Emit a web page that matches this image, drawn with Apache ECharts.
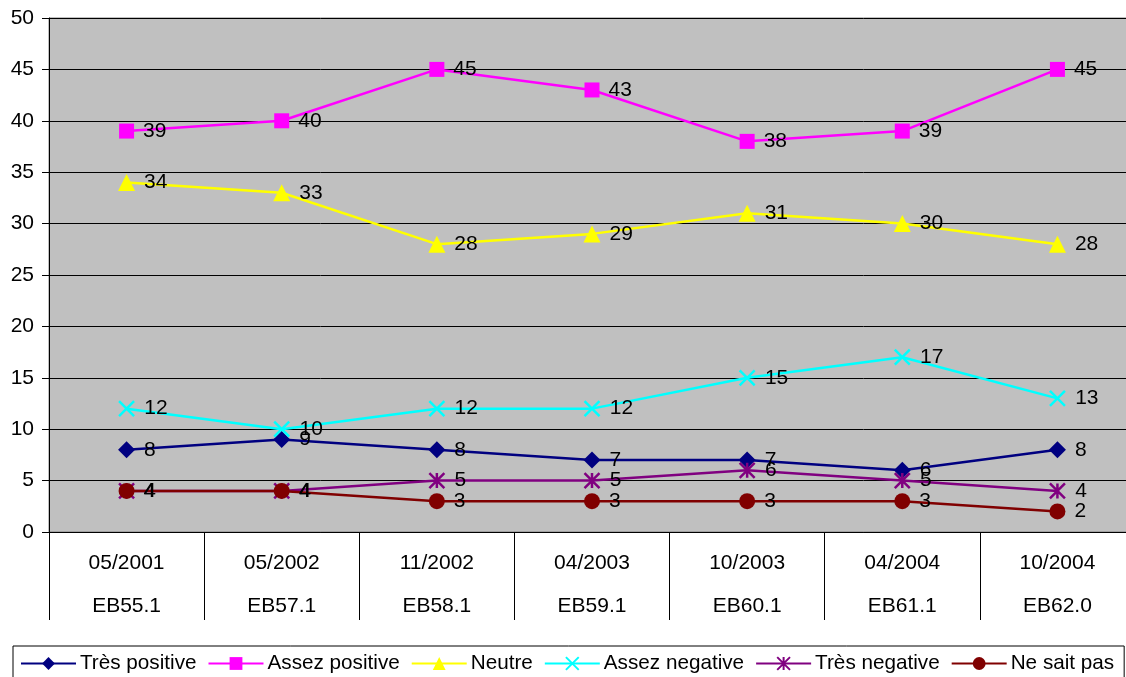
<!DOCTYPE html>
<html>
<head>
<meta charset="utf-8">
<script src="https://cdn.jsdelivr.net/npm/echarts@6/dist/echarts.min.js"></script>
<style>
html,body{margin:0;padding:0;background:#fff;overflow:hidden;width:1126px;height:677px;}
#chart{width:1150px;height:677px;}
</style>
</head>
<body>
<div id="chart"></div>
<script>
var categories = ['05/2001\nEB55.1','05/2002\nEB57.1','11/2002\nEB58.1','04/2003\nEB59.1','10/2003\nEB60.1','04/2004\nEB61.1','10/2004\nEB62.0'];
var tresPositive = [8, 9, 8, 7, 7, 6, 8];
var assezPositive = [39, 40, 45, 43, 38, 39, 45];
var neutre = [34, 33, 28, 29, 31, 30, 28];
var assezNegative = [12, 10, 12, 12, 15, 17, 13];
var tresNegative = [4, 4, 5, 5, 6, 5, 4];
var neSaitPas = [4, 4, 3, 3, 3, 3, 2];
var seriesNames = ['Très positive','Assez positive','Neutre','Assez negative','Très negative','Ne sait pas'];

var FONT = "'Liberation Sans', Arial, sans-serif";
function mk(name, data, color, symbol, size, stroke) {
  var s = {
    name: name, type: 'line', data: data, color: color,
    symbol: symbol, symbolSize: size, showAllSymbol: true,
    lineStyle: {color: color, width: 2.5},
    itemStyle: {color: color},
    label: {show: true, position: 'right', distance: 9, color: '#000', fontSize: 21, fontFamily: FONT},
    animation: false
  };
  if (stroke) { s.itemStyle = {color: color, borderColor: color, borderWidth: 2.5}; }
  return s;
}
var chart = echarts.init(document.getElementById('chart'), null, {renderer: 'canvas'});
chart.setOption({
  backgroundColor: '#fff',
  animation: false,
  grid: {left: 49, top: 18, width: 1086, height: 514, show: true, backgroundColor: '#C0C0C0', borderColor: '#808080', borderWidth: 1},
  legend: {
    data: seriesNames, left: 13, top: 646, orient: 'horizontal',
    itemWidth: 55, itemHeight: 16, itemGap: 11,
    padding: [7, 10, 7, 7],
    borderColor: '#000', borderWidth: 1,
    textStyle: {fontSize: 20.7, color: '#000', fontFamily: FONT, padding: [0,0,0,-1]}
  },
  xAxis: {
    type: 'category', data: categories, boundaryGap: true,
    axisLine: {lineStyle: {color: '#000', width: 1}},
    axisTick: {show: true, length: 88, interval: 0, lineStyle: {color: '#000'}},
    axisLabel: {interval: 0, margin: 10, fontSize: 21, lineHeight: 43, color: '#000', fontFamily: FONT},
    splitLine: {show: false}
  },
  yAxis: {
    type: 'value', min: 0, max: 50, interval: 5,
    axisLine: {show: true, lineStyle: {color: '#000'}},
    axisTick: {show: true, length: 7, lineStyle: {color: '#000'}},
    axisLabel: {fontSize: 21, color: '#000', margin: 15, fontFamily: FONT},
    splitLine: {show: true, lineStyle: {color: '#000', width: 1}}
  },
  series: [
    mk(seriesNames[0], tresPositive, '#000080', 'diamond', 17),
    mk(seriesNames[1], assezPositive, '#FF00FF', 'rect', 15),
    mk(seriesNames[2], neutre, '#FFFF00', 'triangle', 17),
    mk(seriesNames[3], assezNegative, '#00FFFF', 'path://M0,0L10,10M10,0L0,10', 15, true),
    mk(seriesNames[4], tresNegative, '#800080', 'path://M0,0L10,10M10,0L0,10M5,0L5,10', 15, true),
    mk(seriesNames[5], neSaitPas, '#800000', 'circle', 16)
  ]
});
</script>
</body>
</html>
